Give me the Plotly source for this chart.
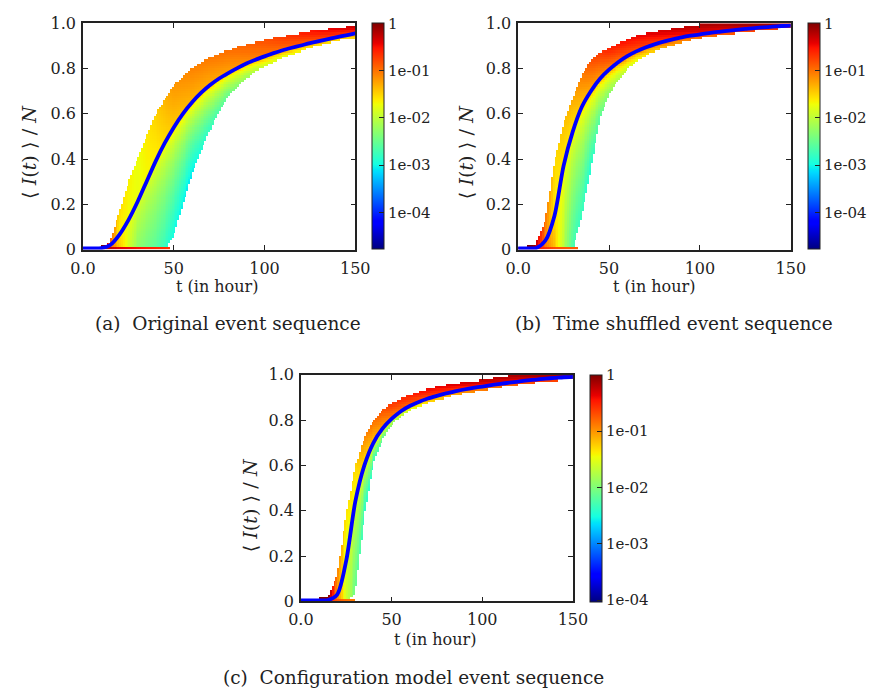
import numpy as np
import plotly.graph_objects as go

W, H = 882, 698
FONT = "DejaVu Serif"

# ---------------- data ----------------
T = list(range(0, 151, 5))

# (a) Original event sequence
A_upper = [0.01, 0.01, 0.01, 0.03, 0.16, 0.29, 0.40, 0.50, 0.59, 0.66, 0.72, 0.76, 0.795, 0.82, 0.845, 0.86,
           0.875, 0.89, 0.90, 0.91, 0.92, 0.93, 0.937, 0.945, 0.952, 0.96, 0.965, 0.97, 0.975, 0.98, 0.985]
A_mean = [0.005, 0.005, 0.006, 0.02, 0.065, 0.13, 0.21, 0.30, 0.39, 0.47, 0.54, 0.60, 0.65, 0.692, 0.727, 0.756,
          0.78, 0.802, 0.822, 0.839, 0.854, 0.868, 0.881, 0.892, 0.902, 0.912, 0.921, 0.93, 0.939, 0.947, 0.955]
A_lower = [0, 0, 0, 0, 0, 0, 0, 0, 0, 0, 0.06, 0.20, 0.33, 0.43, 0.53, 0.61,
           0.68, 0.72, 0.76, 0.79, 0.81, 0.83, 0.85, 0.865, 0.88, 0.895, 0.905, 0.915, 0.925, 0.935, 0.94]
A_lvt = [0, 12, 15, 20, 30, 40, 50, 60, 80, 100, 125, 150]
A_top = [0, 0, -0.9, -1.55, -1.75, -1.5, -1.2, -1.1, -1.0, -0.85, -0.55, -0.3]
A_mid = [0, 0, -1.0, -1.65, -1.75, -1.65, -1.45, -1.35, -1.25, -1.05, -0.9, -0.7]
A_low = [0, 0, -0.9, -1.4, -2.3, -2.6, -3.0, -3.1, -2.5, -1.9, -1.6, -1.5]
A_bot_t = [0, 13, 20, 30, 40, 48]
A_bot = [0, -0.2, -0.4, -0.5, -0.6, -0.7]

# (b) Time shuffled event sequence
B_upper = [0.01, 0.01, 0.02, 0.13, 0.39, 0.55, 0.67, 0.765, 0.83, 0.865, 0.885, 0.905, 0.925, 0.94, 0.95, 0.957,
           0.965, 0.972, 0.978, 0.985, 0.99, 0.995, 1, 1, 1, 1, 1, 1, 1, 1, 1]
B_mean = [0.005, 0.005, 0.007, 0.04, 0.15, 0.37, 0.52, 0.63, 0.70, 0.755, 0.795, 0.828, 0.855, 0.876, 0.893, 0.907,
          0.919, 0.929, 0.938, 0.945, 0.951, 0.957, 0.962, 0.967, 0.971, 0.975, 0.979, 0.982, 0.985, 0.988, 0.99]
B_lower = [0, 0, 0, 0, 0, 0, 0, 0.15, 0.36, 0.58, 0.69, 0.75, 0.80, 0.835, 0.86, 0.88,
           0.895, 0.908, 0.92, 0.93, 0.938, 0.945, 0.951, 0.956, 0.961, 0.966, 0.97, 0.974, 0.978, 0.981, 0.984]
B_lvt = [0, 8, 15, 20, 30, 40, 50, 60, 80, 100, 125, 150]
B_top = [0, 0, -1.0, -1.55, -1.3, -0.85, -0.6, -0.5, -0.35, -0.2, -0.1, -0.05]
B_mid = [0, 0, -1.1, -1.65, -1.6, -1.3, -1.1, -0.9, -0.7, -0.5, -0.4, -0.3]
B_low = [0, 0, -1.0, -1.4, -2.7, -2.9, -2.3, -1.9, -1.3, -1.0, -0.8, -0.7]
B_bot_t = [0, 9, 20, 33]
B_bot = [0, -0.5, -0.8, -0.9]

# (c) Configuration model event sequence
C_upper = [0.01, 0.01, 0.01, 0.02, 0.12, 0.38, 0.59, 0.72, 0.795, 0.84, 0.87, 0.89, 0.905, 0.92, 0.933, 0.943,
           0.95, 0.956, 0.962, 0.967, 0.972, 0.978, 0.985, 0.992, 0.997, 1, 1, 1, 1, 1, 1]
C_mean = [0.005, 0.005, 0.005, 0.006, 0.03, 0.18, 0.44, 0.60, 0.70, 0.762, 0.805, 0.838, 0.862, 0.88, 0.895, 0.907,
          0.918, 0.927, 0.935, 0.942, 0.948, 0.954, 0.96, 0.965, 0.97, 0.975, 0.979, 0.983, 0.986, 0.989, 0.991]
C_lower = [0, 0, 0, 0, 0, 0, 0.04, 0.38, 0.61, 0.72, 0.785, 0.82, 0.845, 0.865, 0.88, 0.892,
           0.903, 0.913, 0.921, 0.929, 0.936, 0.943, 0.949, 0.955, 0.96, 0.966, 0.971, 0.975, 0.979, 0.982, 0.985]
C_lvt = [0, 15, 20, 25, 30, 35, 40, 50, 70, 100, 125, 150]
C_top = [0, 0, -0.9, -1.35, -1.3, -0.95, -0.85, -0.6, -0.4, -0.25, -0.1, -0.05]
C_mid = [0, 0, -1.0, -1.55, -1.5, -1.35, -1.2, -0.95, -0.7, -0.5, -0.35, -0.25]
C_low = [0, 0, -0.9, -1.6, -2.1, -2.4, -2.4, -1.9, -1.3, -0.9, -0.7, -0.6]
C_bot_t = [0, 16, 23, 30]
C_bot = [0, -0.6, -0.8, -0.9]

X_TICKS = [0, 50, 100, 150]
X_TICKTEXT = ["0.0", "50", "100", "150"]
Y_TICKS = [0, 0.2, 0.4, 0.6, 0.8, 1.0]
Y_TICKTEXT = ["0", "0.2", "0.4", "0.6", "0.8", "1.0"]
CB_TICKS = [0, -1, -2, -3, -4]
CB_TICKTEXT = ["1", "1e-01", "1e-02", "1e-03", "1e-04"]
CAPTIONS = ["(a)  Original event sequence", "(b)  Time shuffled event sequence",
            "(c)  Configuration model event sequence"]
Y_TITLE = "⟨\u2004<i>I</i>(<i>t</i>)\u2004⟩\u2004/\u2004<i>N</i>"
X_TITLE = "t (in hour)"

# ---------------- matplotlib 'jet' colour scale ----------------
_r = ([0, 0.35, 0.66, 0.89, 1], [0, 0, 1, 1, 0.5])
_g = ([0, 0.125, 0.375, 0.64, 0.91, 1], [0, 0, 1, 1, 0, 0])
_b = ([0, 0.11, 0.34, 0.65, 1], [0.5, 1, 1, 0, 0])
_pos = sorted(set(_r[0] + _g[0] + _b[0]))
JET = [[p, "rgb(%d,%d,%d)" % (round(255 * np.interp(p, *_r)), round(255 * np.interp(p, *_g)),
                              round(255 * np.interp(p, *_b)))] for p in _pos]


def px_x(x):
    return x / W


def px_y(y):
    return 1 - y / H


def density_table(up, mid, lo, lvt, ltop, lmid, llow, bt, bv):
    tc = np.arange(150) + 0.5
    U = np.interp(tc, T, up)
    M = np.interp(tc, T, mid)
    L = np.interp(tc, T, lo)
    Lt = np.interp(tc, lvt, ltop)
    Lm = np.interp(tc, lvt, lmid)
    Ll = np.interp(tc, lvt, llow)
    z = np.full((100, 150), np.nan)
    for j in range(150):
        for i in range(100):
            vb, vt = i * 0.01, (i + 1) * 0.01
            if vt > L[j] + 1e-9 and vb < U[j] - 1e-9:
                v = vb + 0.005
                if v >= M[j]:
                    f = min(1.0, (v - M[j]) / max(U[j] - M[j], 1e-6))
                    z[i, j] = Lm[j] + f * (Lt[j] - Lm[j])
                else:
                    f = min(1.0, (M[j] - v) / max(M[j] - L[j], 1e-6)) ** 0.6
                    z[i, j] = Lm[j] + f * (Ll[j] - Lm[j])
        if tc[j] <= bt[-1]:
            z[0, j] = np.interp(tc[j], bt, bv)
    return z


panels = [
    dict(up=A_upper, mid=A_mean, lo=A_lower, lvt=A_lvt, lt=A_top, lm=A_mid, ll=A_low, bt=A_bot_t, bv=A_bot,
         px=(72.3, 353.5), py=(14.7, 247.3), cbx=371, zmin=-4.78,
         ytitle=(16.5, 147), xtitle=(211, 285), cap=(221.7, 323)),
    dict(up=B_upper, mid=B_mean, lo=B_lower, lvt=B_lvt, lt=B_top, lm=B_mid, ll=B_low, bt=B_bot_t, bv=B_bot,
         px=(521.7, 803.3), py=(14.7, 247.3), cbx=821, zmin=-4.78,
         ytitle=(468, 147), xtitle=(662, 285), cap=(683, 323)),
    dict(up=C_upper, mid=C_mean, lo=C_lower, lvt=C_lvt, lt=C_top, lm=C_mid, ll=C_low, bt=C_bot_t, bv=C_bot,
         px=(297.3, 578.3), py=(376, 609), cbx=596, zmin=-4.03,
         ytitle=(245, 510), xtitle=(436, 648), cap=(414, 687)),
]

fig = go.Figure()
annotations = []
x_edges = np.arange(151)
y_edges = np.round(np.arange(101) * 0.01, 4)

for k, p in enumerate(panels):
    sfx = "" if k == 0 else str(k + 1)
    z = density_table(p["up"], p["mid"], p["lo"], p["lvt"], p["lt"], p["lm"], p["ll"], p["bt"], p["bv"])
    fig.add_trace(go.Heatmap(
        x=x_edges, y=y_edges, z=z, zmin=p["zmin"], zmax=0, colorscale=JET,
        xaxis="x" + sfx, yaxis="y" + sfx, hoverinfo="skip",
        colorbar=dict(x=px_x(p["cbx"]), xanchor="left", y=px_y(p["py"][0]), yanchor="top",
                      len=(p["py"][1] - p["py"][0]) / H, lenmode="fraction",
                      thickness=12, thicknessmode="pixels", xpad=0, ypad=0,
                      outlinewidth=1, outlinecolor="#222",
                      tickvals=CB_TICKS, ticktext=CB_TICKTEXT, ticks="inside", ticklen=5,
                      tickcolor="#222", tickfont=dict(family=FONT, size=15, color="#222")),
    ))
    fig.add_trace(go.Scatter(
        x=T, y=p["mid"], mode="lines", xaxis="x" + sfx, yaxis="y" + sfx,
        line=dict(color="#0000ff", width=3.8, shape="spline", smoothing=0.8),
        showlegend=False, hoverinfo="skip"))

    axstyle = dict(showgrid=False, zeroline=False, showline=True, linecolor="#222", linewidth=1.5,
                   mirror="allticks", ticks="inside", ticklen=5, tickwidth=1, tickcolor="#222",
                   tickfont=dict(family=FONT, size=16, color="#222"))
    fig.layout["xaxis" + sfx] = dict(domain=[px_x(p["px"][0]), px_x(p["px"][1])], anchor="y" + sfx,
                                     range=[0, 150], tickvals=X_TICKS, ticktext=X_TICKTEXT,
                                     ticklabelstandoff=3, **axstyle)
    fig.layout["yaxis" + sfx] = dict(domain=[px_y(p["py"][1]), px_y(p["py"][0])], anchor="x" + sfx,
                                     range=[0, 1], tickvals=Y_TICKS, ticktext=Y_TICKTEXT,
                                     ticklabelstandoff=2, **axstyle)

    annotations.append(dict(text=Y_TITLE, textangle=-90, showarrow=False,
                            xref="paper", yref="paper", x=px_x(p["ytitle"][0]), y=px_y(p["ytitle"][1]),
                            xanchor="center", yanchor="middle",
                            font=dict(family=FONT, size=19, color="#222")))
    annotations.append(dict(text=X_TITLE, showarrow=False, xref="paper", yref="paper",
                            x=px_x(p["xtitle"][0]), y=px_y(p["xtitle"][1]), xanchor="center", yanchor="middle",
                            font=dict(family=FONT, size=16, color="#222")))
    annotations.append(dict(text=CAPTIONS[k], showarrow=False, xref="paper", yref="paper",
                            x=px_x(p["cap"][0]), y=px_y(p["cap"][1]), xanchor="center", yanchor="middle",
                            font=dict(family=FONT, size=18.5, color="#222")))

fig.update_layout(width=W, height=H, margin=dict(l=0, r=0, t=0, b=0), paper_bgcolor="white",
                  plot_bgcolor="white", showlegend=False, annotations=annotations)

fig.write_html("out.html")
